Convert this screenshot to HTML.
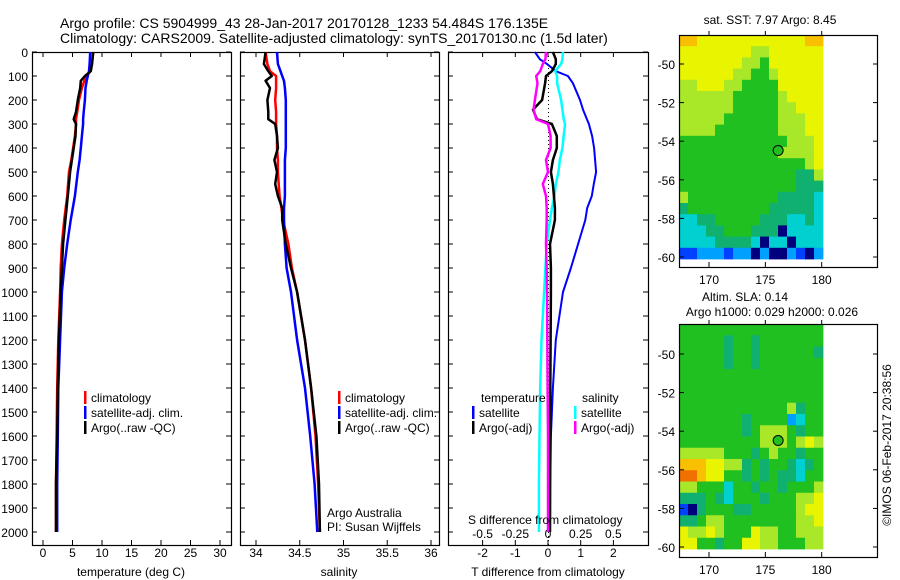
<!DOCTYPE html>
<html><head><meta charset="utf-8">
<style>
html,body{margin:0;padding:0;background:#fff;}
svg{display:block;font-family:"Liberation Sans",sans-serif;}
</style></head>
<body>
<svg id="chart" width="900" height="580" viewBox="0 0 900 580">
<text x="60" y="28" font-size="14">Argo profile: CS 5904999_43 28-Jan-2017 20170128_1233 54.484S 176.135E</text>
<text x="60" y="43" font-size="14">Climatology: CARS2009. Satellite-adjusted climatology: synTS_20170130.nc (1.5d later)</text>
</svg>
<script>
// ---------- data ----------
const depthTicks = [0,100,200,300,400,500,600,700,800,900,1000,1100,1200,1300,1400,1500,1600,1700,1800,1900,2000];
const tDepths = [0,50,80,100,120,150,200,250,280,300,350,400,450,500,600,700,800,900,1000,1200,1400,1600,1800,2000];
const tArgo   = [8.5,8.3,8.1,7.1,6.4,6.3,5.9,5.6,5.2,5.6,5.5,5.2,4.9,4.6,4.2,3.8,3.4,3.2,3.0,2.7,2.5,2.4,2.2,2.2];
const tClim   = [8.5,8.3,8.0,7.4,7.0,6.6,6.1,5.8,5.6,5.6,5.4,5.1,4.8,4.4,4.1,3.6,3.2,3.0,2.9,2.6,2.4,2.3,2.2,2.2];
const tSat    = [8.0,7.9,7.8,7.6,7.4,7.2,7.1,6.9,6.8,6.8,6.6,6.4,6.2,5.9,5.4,4.7,4.1,3.6,3.2,2.9,2.6,2.5,2.4,2.4];
const sDepths = [0,50,80,100,120,150,200,250,280,300,350,400,450,500,550,600,650,700,800,900,1000,1200,1400,1600,1800,2000];
const sArgo   = [34.11,34.09,34.14,34.18,34.11,34.16,34.13,34.14,34.14,34.22,34.24,34.25,34.21,34.24,34.22,34.25,34.30,34.30,34.34,34.40,34.47,34.56,34.63,34.69,34.72,34.73];
const sClim   = [34.11,34.13,34.16,34.23,34.23,34.23,34.22,34.23,34.23,34.23,34.24,34.24,34.25,34.25,34.26,34.27,34.29,34.31,34.37,34.41,34.47,34.56,34.63,34.68,34.71,34.73];
const sSat    = [34.24,34.25,34.28,34.30,34.32,34.33,34.34,34.34,34.34,34.34,34.34,34.34,34.33,34.33,34.33,34.33,34.32,34.32,34.33,34.35,34.40,34.47,34.56,34.62,34.67,34.70];
const dDepths = [0,30,50,80,100,130,200,240,280,300,350,400,450,500,550,600,650,700,800,900,1000,1200,1400,1600,1800,2000];
const dTSat   = [-0.40,-0.25,-0.03,0.24,0.61,0.76,0.98,1.07,1.19,1.25,1.35,1.41,1.44,1.47,1.40,1.34,1.20,1.14,0.92,0.70,0.46,0.24,0.15,0.09,0.07,0.06];
const dTArgo  = [0.15,0.24,0.24,0.12,-0.06,-0.09,-0.18,-0.46,-0.34,0.12,0.27,0.27,0.15,0.09,0.15,0.18,0.21,0.21,0.06,0.09,0.09,0.08,0.07,0.07,0.06,0.06];
const dSSat   = [0.115,0.11,0.10,0.054,0.07,0.07,0.10,0.11,0.12,0.13,0.12,0.11,0.09,0.08,0.06,0.05,0.03,0.015,-0.01,-0.02,-0.03,-0.05,-0.06,-0.065,-0.07,-0.07];
const dSArgo  = [-0.015,-0.02,-0.04,-0.06,-0.09,-0.08,-0.10,-0.11,-0.09,0.0,0.02,0.02,-0.015,0.0,-0.04,-0.015,-0.01,-0.01,-0.015,-0.01,-0.008,-0.005,-0.003,0.0,0.0,0.0];
const tTicks = [0,5,10,15,20,25,30];
const sTicks = [34,34.5,35,35.5,36];
const dtTicks = [-2,-1,0,1,2];
const dsTicks = [-0.5,-0.25,0,0.25,0.5];
const latTicks = [-50,-52,-54,-56,-58,-60];
const lonTicks = [170,175,180];
const argoLon = 176.135, argoLat = -54.484;
const sstGrid = [
"8877777777777788","7777777766777777","7777777665777777","7777776655677777",
"6677766555577777","6666665555567777","6666665555566777","6666655555566677",
"6666555555566677","5555555555556667","5555555555566667","5555555555555567",
"5555555555555446","5555555555555444","6555555555544443","4555555555444443",
"3344555554443343","3334455544403333","3333444430330333","1122212202002102"];
const slaGrid = [
"5555555555555555","5555545545555555","5555545545555554","5555545545555555",
"5555555555555555","5555555555555555","5555555555555555","5555555555556455",
"5555555455552355","5555555456665455","5555555556665676","6666655545655455",
"8887766454554345","9987755454544355","6655535545545556","4445435554555667",
"1045554455555677","4456655555555667","7667655576655666","7755455776655566"];
// ---------- styling / helpers ----------
const palette = ["#00007f","#0040ff","#00a0ff","#00d0d0","#10b070","#20c020","#a8e828","#e8f400","#f8c000","#f07000"];
const svg = document.getElementById('chart');
const NS = "http://www.w3.org/2000/svg";
function mk(tag, attrs, parent){const e=document.createElementNS(NS,tag);for(const k in attrs)e.setAttribute(k,attrs[k]);(parent||svg).appendChild(e);return e;}
function txt(x,y,s,size,anchor,parent){const e=mk('text',{x:x,y:y,'font-size':size,'text-anchor':anchor||'start'},parent);e.textContent=s;return e;}
const yD = d => 52 + 0.24*d;
const PT = 52, PB = 545;
function frame(x0,x1,name){
  const r=mk('rect',{x:x0+0.5,y:PT+0.5,width:x1-x0,height:PB-PT,fill:'none',stroke:'#000','stroke-width':1.2});
  
  
  depthTicks.forEach(d=>{mk('line',{x1:x0,x2:x0+5,y1:yD(d),y2:yD(d),stroke:'#000'});mk('line',{x1:x1-5,x2:x1,y1:yD(d),y2:yD(d),stroke:'#000'});});
}
function xticks(vals,fx,labelY,fmt,name){
  const g=mk('g',{});
  
  
  vals.forEach(v=>{const x=fx(v);mk('line',{x1:x,x2:x,y1:PB-5,y2:PB,stroke:'#000'},g);mk('line',{x1:x,x2:x,y1:PT,y2:PT+5,stroke:'#000'},g);txt(x,labelY,fmt?fmt(v):String(v),12,'middle',g);});
}
function line(ds,vs,fx,color,name,w){
  const p=ds.map((d,i)=>(i?'L':'M')+fx(vs[i]).toFixed(1)+','+yD(d).toFixed(1)).join('');
  const e=mk('path',{d:p,fill:'none',stroke:color,'stroke-width':w||2.5,'stroke-linejoin':'round'});
  
  
}
function legend(x,y,color,label,name){
  const g=mk('g',{});
  
  
  mk('rect',{x:x,y:y-11,width:2.5,height:13,fill:color},g);
  txt(x+7,y,label,12,'start',g);
}
// depth labels
const dl=mk('g',{});


depthTicks.forEach(d=>txt(28,yD(d)+5,String(d),12,'end',dl));
// panel 1: temperature
const fT = t => 43 + 5.9*t;
frame(32,231,'temperature-panel');
xticks(tTicks,fT,557,null,'temperature-x-ticks');
line(tDepths,tClim,fT,'#ff0000','temp-climatology-line');
line(tDepths,tSat,fT,'#0000ff','temp-satellite-line');
line(tDepths,tArgo,fT,'#000000','temp-argo-line');
legend(84,402,'#ff0000','climatology','legend-climatology-temp');
legend(84,417,'#0000ff','satellite-adj. clim.','legend-satellite-temp');
legend(84,432,'#000000','Argo(..raw -QC)','legend-argo-temp');
const t1=txt(131,576,'temperature (deg C)',12,'middle');


// panel 2: salinity
const fS = s => 256 + 87.5*(s-34);
frame(240,439,'salinity-panel');
xticks(sTicks,fS,557,null,'salinity-x-ticks');
line(sDepths,sClim,fS,'#ff0000','sal-climatology-line');
line(sDepths,sSat,fS,'#0000ff','sal-satellite-line');
line(sDepths,sArgo,fS,'#000000','sal-argo-line');
legend(338,402,'#ff0000','climatology','legend-climatology-sal');
legend(338,417,'#0000ff','satellite-adj. clim.','legend-satellite-sal');
legend(338,432,'#000000','Argo(..raw -QC)','legend-argo-sal');
const t2=txt(339,576,'salinity',12,'middle');


const pi1=txt(327,517,'Argo Australia',12,'start');


const pi2=txt(327,531,'PI: Susan Wijffels',12,'start');


// panel 3: differences
const fdT = v => 548 + 32.7*v;
const fdS = v => 548 + 130.7*v;
frame(448,648,'difference-panel');
xticks(dtTicks,fdT,557,null,'t-diff-x-ticks');
const sl=mk('g',{});


dsTicks.forEach(v=>txt(fdS(v),538,String(v),12,'middle',sl));
mk('line',{x1:548.5,x2:548.5,y1:52,y2:545,stroke:'#000','stroke-dasharray':'1,3'});
line(dDepths,dTSat,fdT,'#0000ff','tdiff-satellite-line',2);
line(dDepths,dSSat,fdS,'#00ffff','sdiff-satellite-line',2.5);
line(dDepths,dTArgo,fdT,'#000000','tdiff-argo-line',2.5);
line(dDepths,dSArgo,fdS,'#ff00ff','sdiff-argo-line',2.5);
const lt=txt(481,402,'temperature',12,'start');


const ls=txt(582,402,'salinity',12,'start');


legend(472,417,'#0000ff','satellite','legend-tdiff-satellite');
legend(472,432,'#000000','Argo(-adj)','legend-tdiff-argo');
legend(574,417,'#00ffff','satellite','legend-sdiff-satellite');
legend(574,432,'#ff00ff','Argo(-adj)','legend-sdiff-argo');
const t3=txt(468,524,'S difference from climatology',12,'start');


const t4=txt(548,576,'T difference from climatology',12,'middle');


// maps
function map(top,bottom,imgBottom,lat50,lat60,grid,name){
  const fx = lon => 709 + (lon-170)*11.27;
  const fy = lat => lat50 + (-50-lat)*(lat60-lat50)/10;
  const g=mk('g',{});
  
  
  const rows=grid.length, cols=grid[0].length;
  const x0=679,x1=823,cw=(x1-x0)/cols,ch=(imgBottom-top)/rows;
  grid.forEach((row,r)=>{for(let c=0;c<cols;c++){mk('rect',{x:(x0+c*cw).toFixed(2),y:(top+r*ch).toFixed(2),width:(cw+0.4).toFixed(2),height:(ch+0.4).toFixed(2),fill:palette[+row[c]]},g);}});
  mk('rect',{x:679.5,y:top+0.5,width:198,height:bottom-top,fill:'none',stroke:'#000','stroke-width':1.2},g);
  latTicks.forEach(l=>{const y=fy(l);mk('line',{x1:679,x2:684,y1:y,y2:y,stroke:'#000'},g);mk('line',{x1:873,x2:878,y1:y,y2:y,stroke:'#000'},g);txt(675,y+5,String(l),12,'end',g);});
  lonTicks.forEach(l=>{const x=fx(l);mk('line',{x1:x,x2:x,y1:bottom-5,y2:bottom,stroke:'#000'},g);mk('line',{x1:x,x2:x,y1:top-4,y2:top,stroke:'#000'},g);txt(x,bottom+17,String(l),12,'middle',g);});
  const c=mk('circle',{cx:fx(argoLon),cy:fy(argoLat),r:5,fill:'#20c020',stroke:'#000','stroke-width':1},g);
  
  
}
map(35,267,259,64,257,sstGrid,'sst-map');
map(324,557,549,354,547,slaGrid,'sla-map');
const m1=txt(770,24,'sat. SST: 7.97 Argo: 8.45',12,'middle');


const m2=txt(745,301,'Altim. SLA: 0.14',12,'middle');


const m3=txt(772,316,'Argo h1000: 0.029 h2000: 0.026',12,'middle');


const cp=mk('text',{x:0,y:0,'font-size':12,'text-anchor':'middle',transform:'translate(891,445) rotate(-90)'});
cp.textContent='©IMOS 06-Feb-2017 20:38:56';


</script>
</body></html>
